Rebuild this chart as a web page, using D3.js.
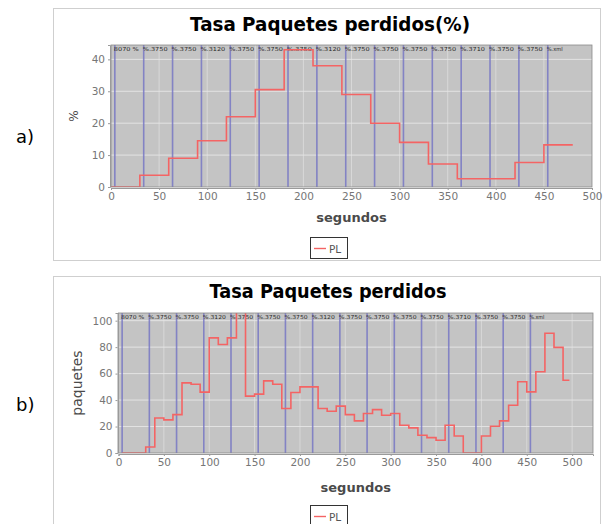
<!DOCTYPE html>
<html>
<head>
<meta charset="utf-8">
<script src="https://cdn.jsdelivr.net/npm/d3@7"></script>
<style>
  html,body{margin:0;padding:0;background:#fff;}
  svg{display:block;}
</style>
</head>
<body>
<svg id="chart" width="603" height="524"></svg>
<script>
// ---------- DATA ----------
// Chart a) Tasa Paquetes perdidos(%)
const pctSeconds = [0,30,60,90,120,150,180,210,240,270,300,330,360,390,420,450,480];
const pctValues  = [0,3.7,9,14.5,22,30.5,43,38,29,20,14,7.2,2.6,2.6,7.7,13.2,13.2];
// Chart b) Tasa Paquetes perdidos
const pktSeconds = [4,10,20,30,40,50,60,70,80,90,100,110,120,130,140,150,160,170,180,190,200,210,220,230,240,250,260,270,280,290,300,310,320,330,340,350,360,370,380,390,400,410,420,430,440,450,460,470,480,490,497];
const pktValues  = [0,0,0,4.5,26.5,25,29,53,52,46,87,82,87,108,43,44.5,54.5,52,33.6,45.7,50,50,33.6,31.6,35.4,29,24.3,29.8,32.8,28.5,29.8,21,19,13.4,11.6,9.6,21,12.9,0,0,12.9,20.2,24.3,36.1,53.8,46.2,61.4,90.5,79.8,55,55];
// Vertical markers (seconds) and their labels
const markerSeconds = [4,34,64,94,124,154,184,214,244,274,304,334,364,394,424,454];
const markerLabels = ["8070 %","%.3750","%.3750","%.3120","%.3750","%.3750","%.3750","%.3120","%.3750","%.3750","%.3750","%.3750","%.3710","%.3750","%.3750","%.xml"];
// Axis ticks
const pctXTicks = [0,50,100,150,200,250,300,350,400,450,500];
const pctYTicks = [0,10,20,30,40];
const pktXTicks = [0,50,100,150,200,250,300,350,400,450,500];
const pktYTicks = [0,20,40,60,80,100];
const seriesName = "PL";

// ---------- DRAW ----------
const svg = d3.select("#chart");
const FONT = "'DejaVu Sans', Verdana, sans-serif";
const defs = svg.append("defs");

function drawChart(cfg){
  const g = svg.append("g");
  g.append("rect").attr("x",cfg.panel[0]+0.5).attr("y",cfg.panel[1]+0.5)
    .attr("width",cfg.panel[2]).attr("height",cfg.panel[3])
    .attr("fill","#fff").attr("stroke","#cfcfcf");
  g.append("text").attr("x",cfg.titleX).attr("y",cfg.titleY)
    .attr("text-anchor","middle").attr("font-family",FONT).attr("font-weight","bold")
    .attr("font-size",19).attr("textLength",cfg.titleLen).attr("lengthAdjust","spacingAndGlyphs")
    .attr("fill","#000").text(cfg.title);

  const x = d3.scaleLinear().domain(cfg.xDomain).range([cfg.left,cfg.right]);
  const y = d3.scaleLinear().domain(cfg.yDomain).range([cfg.bottom,cfg.top]);

  g.append("rect").attr("x",cfg.left).attr("y",cfg.top)
    .attr("width",cfg.right-cfg.left).attr("height",cfg.bottom-cfg.top)
    .attr("fill","#c4c4c4");

  g.append("g").selectAll("line").data(cfg.yTicks.filter(d=>d>0)).join("line")
    .attr("x1",cfg.left).attr("x2",cfg.right).attr("y1",d=>y(d)).attr("y2",d=>y(d))
    .attr("stroke","#ececec").attr("stroke-width",1).attr("opacity",0.8);
  g.append("g").selectAll("line").data(cfg.xTicks.filter(d=>d>0 && d<cfg.xDomain[1])).join("line")
    .attr("x1",d=>x(d)).attr("x2",d=>x(d)).attr("y1",cfg.top).attr("y2",cfg.bottom)
    .attr("stroke","#e6e6e6").attr("stroke-width",1).attr("opacity",0.6);

  g.append("g").selectAll("line").data(markerSeconds).join("line")
    .attr("x1",d=>x(d)).attr("x2",d=>x(d)).attr("y1",cfg.top).attr("y2",cfg.bottom)
    .attr("stroke","#7373c4").attr("stroke-width",1.6).attr("opacity",0.8);
  const step = x(markerSeconds[1]) - x(markerSeconds[0]);
  g.append("g").selectAll("text").data(markerSeconds).join("text")
    .attr("x",d=>x(d)-1).attr("y",cfg.top+5.5)
    .attr("font-family",FONT).attr("font-size",5.5)
    .attr("textLength",(d,i)=> i===markerSeconds.length-1 ? step*0.55 : step-4)
    .attr("lengthAdjust","spacingAndGlyphs")
    .attr("fill","#2a2a2a")
    .text((d,i)=>markerLabels[i]);

  const cid = "clip"+cfg.id;
  defs.append("clipPath").attr("id",cid).append("rect")
    .attr("x",cfg.left).attr("y",cfg.top).attr("width",cfg.right-cfg.left).attr("height",cfg.bottom-cfg.top);

  const pts = cfg.xs.map((d,i)=>[d,cfg.ys[i]]);
  const line = d3.line().x(d=>x(d[0])).y(d=>y(d[1])).curve(d3.curveStepAfter);
  g.append("path").datum(pts).attr("clip-path",`url(#${cid})`)
    .attr("d",line).attr("fill","none").attr("stroke","#f46464").attr("stroke-width",1.6);

  g.append("rect").attr("x",cfg.left).attr("y",cfg.top)
    .attr("width",cfg.right-cfg.left).attr("height",cfg.bottom-cfg.top)
    .attr("fill","none").attr("stroke","#8a8a8a").attr("stroke-width",0.8);

  const xAxis = d3.axisBottom(x).tickValues(cfg.xTicks).tickSize(2).tickPadding(3);
  const xa = g.append("g").attr("transform",`translate(0,${cfg.bottom+1})`).call(xAxis);
  const yAxis = d3.axisLeft(y).tickValues(cfg.yTicks).tickSize(2).tickPadding(3);
  const ya = g.append("g").attr("transform",`translate(${cfg.left-1},0)`).call(yAxis);
  [xa,ya].forEach(a=>{
    a.select(".domain").attr("stroke","#9a9a9a");
    a.selectAll(".tick line").attr("stroke","#9a9a9a");
    a.selectAll(".tick text").attr("font-family",FONT).attr("font-size",10.5).attr("fill","#767676");
  });

  g.append("text").attr("x",(cfg.left+cfg.right)/2).attr("y",cfg.xLabelY)
    .attr("text-anchor","middle").attr("font-family",FONT).attr("font-size",13)
    .attr("font-weight","bold").attr("fill","#4a4a4a").text("segundos");
  g.append("text").attr("transform",`translate(${cfg.yLabelX},${(cfg.top+cfg.bottom)/2}) rotate(-90)`)
    .attr("text-anchor","middle").attr("font-family",FONT).attr("font-size",cfg.yLabelSize)
    .attr("fill","#4a4a4a").text(cfg.yLabel);

  const lg = g.append("g").attr("transform",`translate(${cfg.legend[0]},${cfg.legend[1]})`);
  lg.append("rect").attr("x",0.5).attr("y",0.5).attr("width",37).attr("height",cfg.legend[2])
    .attr("fill","#fff").attr("stroke","#333").attr("stroke-width",1);
  lg.append("line").attr("x1",4).attr("x2",16).attr("y1",cfg.legend[2]/2+1).attr("y2",cfg.legend[2]/2+1)
    .attr("stroke","#f46464").attr("stroke-width",1.4);
  lg.append("text").attr("x",19).attr("y",cfg.legend[2]/2+5).attr("font-family",FONT)
    .attr("font-size",10.5).attr("fill","#555").text(seriesName);

  svg.append("text").attr("x",16).attr("y",cfg.sideY).attr("font-family",FONT)
    .attr("font-size",18).attr("fill","#000").text(cfg.side);
}

drawChart({
  id:"a", panel:[53,8,547,252], title:"Tasa Paquetes perdidos(%)", titleX:330, titleY:31, titleLen:280,
  left:111, right:592, top:45, bottom:187, xDomain:[0,500], yDomain:[0,44.5],
  xs:pctSeconds, ys:pctValues, xTicks:pctXTicks, yTicks:pctYTicks,
  xLabelY:222, yLabel:"%", yLabelX:78, yLabelSize:12,
  legend:[310,237,21], side:"a)", sideY:143
});
drawChart({
  id:"b", panel:[53,276,547,260], title:"Tasa Paquetes perdidos", titleX:328, titleY:298, titleLen:237,
  left:118.5, right:593, top:313, bottom:453, xDomain:[0,523], yDomain:[0,105.8],
  xs:pktSeconds, ys:pktValues, xTicks:pktXTicks, yTicks:pktYTicks,
  xLabelY:492, yLabel:"paquetes", yLabelX:82, yLabelSize:14,
  legend:[310,505,21], side:"b)", sideY:411
});
</script>
</body>
</html>
